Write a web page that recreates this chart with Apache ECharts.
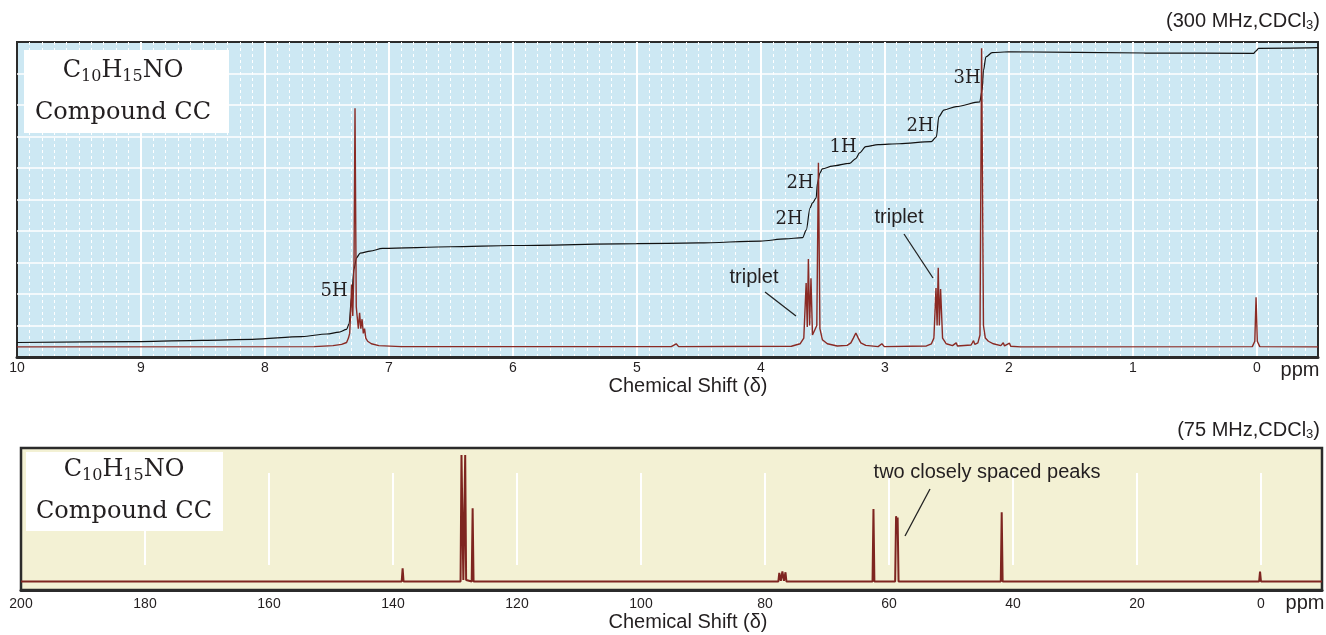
<!DOCTYPE html>
<html>
<head>
<meta charset="utf-8">
<title>Compound CC NMR</title>
<script src="https://cdn.jsdelivr.net/npm/echarts@6/dist/echarts.min.js"></script>
<style>
  html, body { margin: 0; padding: 0; background: #fff; }
  #main { width: 1326px; height: 635px; }
</style>
</head>
<body>
<div id="main"></div>
<script>
// 1H trace, [ppm, intensity] (baseline ~0.32)
var hSpectrum = [
  [10, 0.32], [7.6, 0.33], [7.45, 0.36], [7.38, 0.4], [7.34, 0.46], [7.325, 0.6], [7.315, 0.75],
  [7.305, 1.6], [7.3, 2.3], [7.29, 1.3], [7.28, 3.0], [7.272, 7.9], [7.262, 1.6], [7.255, 1.3],
  [7.245, 0.9], [7.235, 1.4], [7.225, 0.9], [7.215, 1.2], [7.205, 0.75], [7.195, 0.9], [7.185, 0.6],
  [7.17, 0.5], [7.14, 0.42], [7.08, 0.36], [6.9, 0.33], [4.72, 0.33], [4.68, 0.42], [4.66, 0.33],
  [3.75, 0.34], [3.68, 0.42], [3.65, 0.6], [3.631, 2.35], [3.622, 0.95], [3.613, 3.11], [3.603, 1.0],
  [3.592, 2.5], [3.58, 0.7], [3.565, 0.65], [3.545, 1.0], [3.532, 6.17], [3.52, 0.9], [3.5, 0.55],
  [3.46, 0.42], [3.38, 0.35], [3.3, 0.37], [3.27, 0.45], [3.25, 0.6], [3.23, 0.76], [3.21, 0.6],
  [3.19, 0.45], [3.15, 0.37], [3.05, 0.33], [3.02, 0.42], [3.0, 0.33], [2.66, 0.35], [2.62, 0.42],
  [2.6, 0.6], [2.583, 2.19], [2.574, 1.0], [2.565, 2.83], [2.556, 1.0], [2.546, 2.16], [2.53, 0.6],
  [2.5, 0.42], [2.45, 0.36], [2.42, 0.45], [2.41, 0.35], [2.3, 0.38], [2.28, 0.52], [2.27, 0.4],
  [2.245, 0.45], [2.228, 0.7], [2.215, 9.8], [2.2, 1.0], [2.185, 0.6], [2.16, 0.5], [2.12, 0.42],
  [2.06, 0.36], [2.04, 0.45], [2.03, 0.35], [1.99, 0.44], [1.98, 0.34], [1.9, 0.32],
  [0.03, 0.33], [0.01, 0.5], [0, 1.9], [-0.01, 0.5], [-0.03, 0.33], [-0.5, 0.32]
];

// integration curve, [ppm, height]
var hIntegral = [
  [10, 0.46], [9, 0.49], [8.5, 0.53], [8.1, 0.56], [7.7, 0.65], [7.5, 0.73], [7.4, 0.79],
  [7.34, 0.88], [7.32, 1.05], [7.3, 1.9], [7.28, 2.8], [7.26, 3.15], [7.23, 3.3], [7.15, 3.36],
  [7.05, 3.45], [6.5, 3.5], [6, 3.54], [5, 3.6], [4.5, 3.62], [4, 3.68], [3.8, 3.75], [3.66, 3.79],
  [3.63, 4.03], [3.6, 4.73], [3.58, 4.89], [3.55, 5.05], [3.54, 5.52], [3.52, 5.84], [3.5, 5.97],
  [3.42, 6.06], [3.28, 6.15], [3.23, 6.3], [3.2, 6.48], [3.15, 6.68], [3.05, 6.74], [2.88, 6.77],
  [2.62, 6.84], [2.58, 6.99], [2.56, 7.63], [2.52, 7.84], [2.42, 7.95], [2.23, 8.1], [2.21, 8.48],
  [2.2, 9.1], [2.18, 9.53], [2.13, 9.66], [2.0, 9.69], [0.9, 9.65], [0.02, 9.64], [0, 9.72],
  [-0.02, 9.8], [-0.5, 9.82]
];

// 13C trace, [ppm, intensity] (baseline ~6)
var cSpectrum = [
  [200, 6], [138.55, 6], [138.4, 15.3], [138.25, 6], [129.05, 6], [128.9, 95], [128.6, 7],
  [128.3, 95], [128.15, 7], [127.25, 6], [127.1, 57.5], [126.95, 6], [77.75, 6], [77.6, 12],
  [77.35, 6.5], [77.1, 13], [76.85, 6.5], [76.6, 12.5], [76.45, 6], [62.55, 6], [62.4, 57],
  [62.25, 6], [58.9, 6], [58.75, 52], [58.62, 40], [58.5, 51], [58.35, 6], [41.85, 6], [41.7, 54.7],
  [41.55, 6], [0.15, 6], [0, 13], [-0.15, 6], [-10, 6]
];

var hTicks = [0, 10];     // labelled 1H range
var cTicks = [0, 200];    // labelled 13C range

var ink = '#231f20';
var red = '#8a2a24';
var frame = '#2b2b2b';

var chartDom = document.getElementById('main');
var myChart = echarts.init(chartDom);

var option = {
  animation: false,
  backgroundColor: '#fff',
  grid: [
    // 1H plot
    { left: 17, top: 42, width: 1301, height: 315, show: true, backgroundColor: '#cde8f3', borderColor: frame, borderWidth: 2 },
    // 1H major lines + labels (10 .. 0 ppm)
    { left: 17, top: 42, width: 1240, height: 315 },
    // 13C plot
    { left: 21, top: 448, width: 1301, height: 142, show: true, backgroundColor: '#f3f1d4', borderColor: frame, borderWidth: 2.5 },
    // 13C short white lines + labels
    { left: 21, top: 473, width: 1240, height: 92 }
  ],
  xAxis: [
    {
      gridIndex: 0, type: 'value', inverse: true, min: -0.5, max: 10, interval: 0.1,
      axisLine: { show: true, onZero: false, lineStyle: { color: frame, width: 3 } },
      axisTick: { show: false }, axisLabel: { show: false },
      splitLine: { show: true, showMinLine: false, showMaxLine: false, lineStyle: { color: '#fff', width: 1, type: [3, 3] } }
    },
    {
      gridIndex: 1, type: 'value', inverse: true, min: hTicks[0], max: hTicks[1], interval: 1,
      axisLine: { show: false }, axisTick: { show: false },
      axisLabel: { show: true, margin: 4, fontSize: 14, color: ink, fontFamily: 'Liberation Sans' },
      splitLine: { show: true, showMaxLine: false, lineStyle: { color: '#fff', width: 2 } }
    },
    {
      gridIndex: 2, type: 'value', inverse: true, min: -10, max: 200,
      axisLine: { show: true, onZero: false, lineStyle: { color: frame, width: 3 } },
      axisTick: { show: false }, axisLabel: { show: false }, splitLine: { show: false }
    },
    {
      gridIndex: 3, type: 'value', inverse: true, min: cTicks[0], max: cTicks[1], interval: 20,
      axisLine: { show: false }, axisTick: { show: false },
      axisLabel: { show: true, margin: 32, fontSize: 14, color: ink, fontFamily: 'Liberation Sans' },
      splitLine: { show: true, showMaxLine: false, lineStyle: { color: '#fff', width: 2 } }
    }
  ],
  yAxis: [
    {
      gridIndex: 0, type: 'value', min: 0, max: 10, interval: 1,
      axisLine: { show: false }, axisTick: { show: false }, axisLabel: { show: false },
      splitLine: { show: true, showMinLine: false, showMaxLine: false, lineStyle: { color: '#fff', width: 1.5 } }
    },
    { gridIndex: 1, type: 'value', min: 0, max: 10, show: false },
    { gridIndex: 2, type: 'value', min: 0, max: 100, show: false },
    { gridIndex: 3, type: 'value', min: 0, max: 1, show: false }
  ],
  series: [
    {
      name: 'integral', type: 'line', xAxisIndex: 0, yAxisIndex: 0, data: hIntegral,
      showSymbol: false, smooth: 0.3, smoothMonotone: 'x', z: 3,
      lineStyle: { color: '#111', width: 1.2 }
    },
    {
      name: '1H', type: 'line', xAxisIndex: 0, yAxisIndex: 0, data: hSpectrum,
      showSymbol: false, z: 4,
      lineStyle: { color: red, width: 1.4 }
    },
    {
      name: '13C', type: 'line', xAxisIndex: 2, yAxisIndex: 2, data: cSpectrum,
      showSymbol: false, z: 4,
      lineStyle: { color: '#7e2520', width: 2 }
    }
  ]
};

myChart.setOption(option);

// text, boxes and pointer lines
var serif = 'DejaVu Serif';
var sans = 'Liberation Sans';

function formulaBox(x, y, w, h, cx, y1, y2) {
  return [
    { type: 'rect', z: 100, shape: { x: x, y: y, width: w, height: h }, style: { fill: '#fff' } },
    {
      type: 'text', z: 101, x: cx, y: y1,
      style: {
        text: '{b|C}{s|10}{b|H}{s|15}{b|NO}', align: 'center', verticalAlign: 'middle',
        rich: {
          b: { fontSize: 24, fontFamily: serif, fill: ink },
          s: { fontSize: 16, fontFamily: serif, fill: ink, padding: [12, 0, 0, 0] }
        }
      }
    },
    {
      type: 'text', z: 101, x: cx, y: y2,
      style: { text: 'Compound CC', fontSize: 24, fontFamily: serif, fill: ink, align: 'center', verticalAlign: 'middle' }
    }
  ];
}

function label(t, x, y, font, size) {
  return {
    type: 'text', z: 101, x: x, y: y,
    style: { text: t, fontSize: size, fontFamily: font, fill: ink, align: 'center', verticalAlign: 'middle' }
  };
}

function pointer(x1, y1, x2, y2) {
  return { type: 'line', z: 101, shape: { x1: x1, y1: y1, x2: x2, y2: y2 }, style: { stroke: '#222', lineWidth: 1.3 } };
}

function freq(t, y) {
  return {
    type: 'text', z: 101, x: 1320, y: y,
    style: {
      text: t + '{s|3})', fontSize: 20, fontFamily: sans, fill: ink, align: 'right', verticalAlign: 'middle',
      rich: { s: { fontSize: 13, fontFamily: sans, fill: ink, padding: [9, 0, 0, 0] } }
    }
  };
}

var els = []
  .concat(formulaBox(24, 50, 205, 83, 123, 71, 113))
  .concat(formulaBox(26, 452, 197, 79, 124, 470, 512))
  .concat([
    freq('(300 MHz,CDCl', 21),
    freq('(75 MHz,CDCl', 430),
    label('Chemical Shift (δ)', 688, 386, sans, 20),
    label('Chemical Shift (δ)', 688, 622, sans, 20),
    label('ppm', 1300, 370, sans, 20),
    label('ppm', 1305, 603, sans, 20),
    label('5H', 334, 291, serif, 18),
    label('2H', 789, 219, serif, 18),
    label('2H', 800, 183, serif, 18),
    label('1H', 843, 147, serif, 18),
    label('2H', 920, 126, serif, 18),
    label('3H', 967, 78, serif, 18),
    label('triplet', 754, 277, sans, 20),
    pointer(765, 292, 796, 316),
    label('triplet', 899, 217, sans, 20),
    pointer(904, 234, 933, 278),
    label('two closely spaced peaks', 987, 472, sans, 20),
    pointer(930, 489, 905, 536)
  ]);

myChart.setOption({ graphic: { elements: els } });
</script>
</body>
</html>
